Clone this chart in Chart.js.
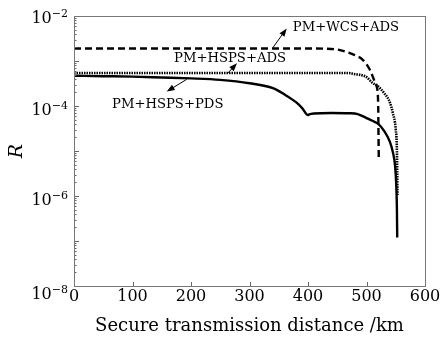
<!DOCTYPE html>
<html>
<head>
<meta charset="utf-8">
<script src="https://cdn.jsdelivr.net/npm/chart.js@4.4.1/dist/chart.umd.min.js"></script>
<style>
  html, body { margin: 0; padding: 0; background: #fff; }
  #wrap { width: 441px; height: 337px; }
</style>
</head>
<body>
<div id="wrap"><canvas id="chart1"></canvas></div>
<script>
// secure transmission distance (km) and R for each scheme
var wcsAdsKm = [0, 100, 200, 300, 400, 430, 450, 465, 480, 494, 506, 514, 518, 520, 520.5, 521];
var wcsAdsR = [1.9e-3, 1.9e-3, 1.9e-3, 1.9e-3, 1.9e-3, 1.88e-3, 1.8e-3, 1.6e-3, 1.35e-3, 1.05e-3, 6.3e-4, 3.5e-4, 2.5e-4, 1e-4, 2.5e-5, 6.3e-6];

var hspsAdsKm = [0, 100, 200, 300, 400, 470, 480, 490, 500, 510, 520, 530, 540, 545, 550, 552, 553];
var hspsAdsR = [5.4e-4, 5.4e-4, 5.4e-4, 5.4e-4, 5.4e-4, 5.4e-4, 5.1e-4, 4.9e-4, 4.4e-4, 3.3e-4, 2.7e-4, 1.95e-4, 1.2e-4, 7e-5, 3e-5, 1e-5, 1.05e-6];

var hspsPdsKm = [0, 50, 100, 150, 200, 250, 300, 340, 360, 380, 390, 400, 402, 410, 440, 470, 485, 500, 510, 520, 530, 540, 545, 549, 551, 552, 552.5];
var hspsPdsR = [4.7e-4, 4.6e-4, 4.5e-4, 4.3e-4, 4.1e-4, 3.8e-4, 3.2e-4, 2.5e-4, 1.8e-4, 1.2e-4, 9e-5, 6.3e-5, 6.5e-5, 6.8e-5, 7.0e-5, 6.9e-5, 6.6e-5, 5.4e-5, 4.7e-5, 4e-5, 2.8e-5, 1.6e-5, 9.5e-6, 4.5e-6, 1.6e-6, 5e-7, 1.2e-7];

var seriesNames = ['PM+WCS+ADS', 'PM+HSPS+ADS', 'PM+HSPS+PDS'];
var xTickValues = [0, 100, 200, 300, 400, 500, 600];
var yLabelExponents = [-2, -4, -6, -8];

var serif = '"DejaVu Serif", "Liberation Serif", serif';

function points(xs, ys) {
  var out = [];
  for (var i = 0; i < xs.length; ++i) {
    out.push({x: xs[i], y: ys[i]});
  }
  return out;
}

// callouts: label anchor and arrow, in data units
var callouts = [
  {text: seriesNames[0], x: 374, y: 5.4e-3, from: [340, 1.98e-3], to: [363.6, 5.3e-3]},
  {text: seriesNames[1], x: 171, y: 1.15e-3, from: [263, 5.4e-4], to: [278.6, 8.9e-4]},
  {text: seriesNames[2], x: 65, y: 1.1e-4, from: [192.6, 3.9e-4], to: [158.5, 2.1e-4]}
];

var axisDecor = {
  id: 'axisDecor',
  afterDraw: function(chart) {
    var ctx = chart.ctx;
    var a = chart.chartArea;
    var xs = chart.scales.x;
    var ys = chart.scales.y;
    ctx.save();

    // inward ticks
    ctx.strokeStyle = '#666';
    ctx.lineWidth = 1;
    ctx.beginPath();
    for (var i = 1; i < xTickValues.length - 1; ++i) {
      var px = Math.round(xs.getPixelForValue(xTickValues[i])) + 0.5;
      ctx.moveTo(px, a.bottom);
      ctx.lineTo(px, a.bottom - 4);
    }
    for (var e = -8; e < -2; ++e) {
      for (var m = 1; m < 10; ++m) {
        var py = Math.round(ys.getPixelForValue(m * Math.pow(10, e))) + 0.5;
        var len = m === 1 ? 5 : 2.5;
        ctx.moveTo(a.left, py);
        ctx.lineTo(a.left + len, py);
      }
    }
    ctx.stroke();

    // box
    ctx.strokeStyle = '#777';
    ctx.strokeRect(Math.round(a.left) + 0.5, Math.round(a.top) + 0.5,
      Math.round(a.right - a.left), Math.round(a.bottom - a.top));

    // y labels 10^n
    ctx.fillStyle = '#000';
    ctx.textAlign = 'left';
    ctx.textBaseline = 'alphabetic';
    for (var k = 0; k < yLabelExponents.length; ++k) {
      var ex = yLabelExponents[k];
      var yy = ys.getPixelForValue(Math.pow(10, ex));
      var shift = ex === -8 ? 13 : (ex === -2 ? 7 : 9);
      var expText = '\u2212' + (-ex);
      ctx.font = '11px ' + serif;
      var expW = ctx.measureText(expText).width;
      ctx.font = '16px ' + serif;
      var baseW = ctx.measureText('10').width;
      var expX = a.left - 6 - expW;
      ctx.fillText('10', expX - baseW, yy + shift);
      ctx.font = '11px ' + serif;
      ctx.fillText(expText, expX, yy + shift - 6);
    }

    // callouts
    ctx.font = '13.2px ' + serif;
    ctx.textBaseline = 'middle';
    ctx.strokeStyle = '#000';
    ctx.lineWidth = 1;
    for (var j = 0; j < callouts.length; ++j) {
      var c = callouts[j];
      ctx.fillText(c.text, xs.getPixelForValue(c.x), ys.getPixelForValue(c.y));
      var x1 = xs.getPixelForValue(c.from[0]), y1 = ys.getPixelForValue(c.from[1]);
      var x2 = xs.getPixelForValue(c.to[0]), y2 = ys.getPixelForValue(c.to[1]);
      var ang = Math.atan2(y2 - y1, x2 - x1);
      ctx.beginPath();
      ctx.moveTo(x1, y1);
      ctx.lineTo(x2 - 5 * Math.cos(ang), y2 - 5 * Math.sin(ang));
      ctx.stroke();
      ctx.beginPath();
      ctx.moveTo(x2, y2);
      ctx.lineTo(x2 - 8 * Math.cos(ang) + 3 * Math.sin(ang), y2 - 8 * Math.sin(ang) - 3 * Math.cos(ang));
      ctx.lineTo(x2 - 8 * Math.cos(ang) - 3 * Math.sin(ang), y2 - 8 * Math.sin(ang) + 3 * Math.cos(ang));
      ctx.closePath();
      ctx.fill();
    }
    ctx.restore();
  }
};

var chart = new Chart('chart1', {
  type: 'line',
  data: {
    datasets: [
      {
        label: seriesNames[0],
        data: points(wcsAdsKm, wcsAdsR),
        borderColor: '#000',
        borderWidth: 2.4,
        borderDash: [7, 4],
        pointRadius: 0,
        cubicInterpolationMode: 'monotone'
      },
      {
        label: seriesNames[1],
        data: points(hspsAdsKm, hspsAdsR),
        borderColor: '#000',
        borderWidth: 2.6,
        borderDash: [1.5, 1],
        pointRadius: 0,
        cubicInterpolationMode: 'monotone'
      },
      {
        label: seriesNames[2],
        data: points(hspsPdsKm, hspsPdsR),
        borderColor: '#000',
        borderWidth: 2.4,
        pointRadius: 0,
        cubicInterpolationMode: 'monotone'
      }
    ]
  },
  options: {
    responsive: true,
    maintainAspectRatio: false,
    animation: false,
    layout: {padding: {top: 16, right: 16, left: 0, bottom: 0}},
    plugins: {
      legend: {display: false},
      tooltip: {enabled: false}
    },
    scales: {
      x: {
        type: 'linear',
        min: 0,
        max: 600,
        grid: {display: false},
        border: {display: false},
        ticks: {
          stepSize: 100,
          color: '#000',
          padding: -7,
          font: {family: serif, size: 16}
        },
        title: {
          display: true,
          text: 'Secure transmission distance /km',
          color: '#000',
          padding: {top: 0, bottom: 0},
          font: {family: serif, size: 18}
        },
        afterFit: function(scale) { scale.height = 51; }
      },
      y: {
        type: 'logarithmic',
        min: 1e-8,
        max: 1e-2,
        grid: {display: false},
        border: {display: false},
        ticks: {display: false},
        title: {
          display: true,
          text: 'R',
          color: '#000',
          padding: {top: 6, bottom: 0},
          font: {family: serif, size: 19, style: 'italic'}
        },
        afterFit: function(scale) { scale.width = 74; }
      }
    }
  },
  plugins: [axisDecor]
});
</script>
</body>
</html>
